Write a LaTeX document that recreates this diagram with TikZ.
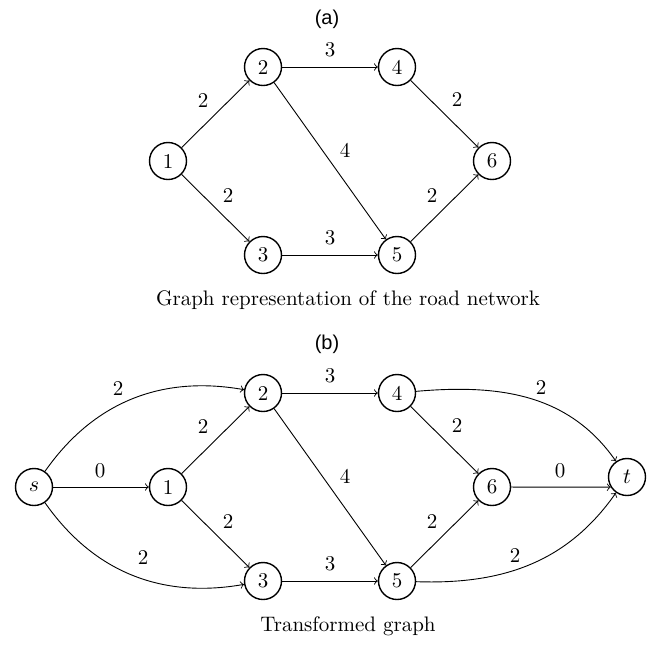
\documentclass[tikz,border=0pt]{standalone}
\usepackage{fontspec}
\newfontfamily\labfont{Liberation Sans}
\begin{document}
\begin{tikzpicture}[x=0.5pt,y=-0.5pt,
  vert/.style={draw,circle,minimum size=18.5pt,inner sep=0pt,line width=0.7pt,font=\fontsize{10.5}{12}\selectfont},
  edge/.style={->,line width=0.45pt},
  wt/.style={font=\fontsize{10.5}{12}\selectfont},
  panel/.style={font=\labfont\fontsize{10}{12}\selectfont},
  captext/.style={font=\fontsize{10.5}{12}\selectfont}]
\useasboundingbox (0,0) rectangle (652,645);
% (a)
\node[panel] (ta) at (327,19) {(a)};
\node[vert] (a1) at (168,161) {1};
\node[vert] (a2) at (263,67) {2};
\node[vert] (a3) at (263,255) {3};
\node[vert] (a4) at (397,67) {4};
\node[vert] (a5) at (397,255) {5};
\node[vert] (a6) at (492,161) {6};
\draw[edge] (a1) -- (a2);
\draw[edge] (a1) -- (a3);
\draw[edge] (a2) -- (a4);
\draw[edge] (a2) -- (a5);
\draw[edge] (a3) -- (a5);
\draw[edge] (a4) -- (a6);
\draw[edge] (a5) -- (a6);
\node[wt] (wa12) at (203,100) {2};
\node[wt] (wa13) at (228,195) {2};
\node[wt] (wa24) at (330,50) {3};
\node[wt] (wa25) at (345,150) {4};
\node[wt] (wa35) at (330,238) {3};
\node[wt] (wa46) at (457,99) {2};
\node[wt] (wa56) at (432,195) {2};
\node[captext] (ca) at (348,300) {Graph representation of the road network};
% (b)
\node[panel] (tb) at (327,344) {(b)};
\node[vert] (s) at (34,487) {$s$};
\node[vert] (b1) at (168,487) {1};
\node[vert] (b2) at (263,393) {2};
\node[vert] (b3) at (263,581) {3};
\node[vert] (b4) at (397,393) {4};
\node[vert] (b5) at (397,581) {5};
\node[vert] (b6) at (492,487) {6};
\node[vert] (t) at (627,477) {$t$};
\draw[edge] (s) to[out=55,in=170] (b2);
\draw[edge] (s) -- (b1);
\draw[edge] (s) to[out=-55,in=-170] (b3);
\draw[edge] (b1) -- (b2);
\draw[edge] (b1) -- (b3);
\draw[edge] (b2) -- (b4);
\draw[edge] (b2) -- (b5);
\draw[edge] (b3) -- (b5);
\draw[edge] (b4) -- (b6);
\draw[edge] (b5) -- (b6);
\draw[edge] (b6) -- (t.212);
\draw[edge] (b4) to[out=5,in=125] (t);
\draw[edge] (b5) to[out=-2,in=-125] (t);
\node[wt] (ws2) at (118,388) {2};
\node[wt] (ws1) at (100,471) {0};
\node[wt] (ws3) at (143,557) {2};
\node[wt] (wb12) at (203,426) {2};
\node[wt] (wb13) at (228,521) {2};
\node[wt] (wb24) at (330,376) {3};
\node[wt] (wb25) at (345,476) {4};
\node[wt] (wb35) at (330,564) {3};
\node[wt] (wb46) at (457,425) {2};
\node[wt] (wb56) at (432,521) {2};
\node[wt] (w6t) at (560,471) {0};
\node[wt] (w4t) at (541,387) {2};
\node[wt] (w5t) at (515,555) {2};
\node[captext] (cb) at (348,626) {Transformed graph};
\end{tikzpicture}
\end{document}
